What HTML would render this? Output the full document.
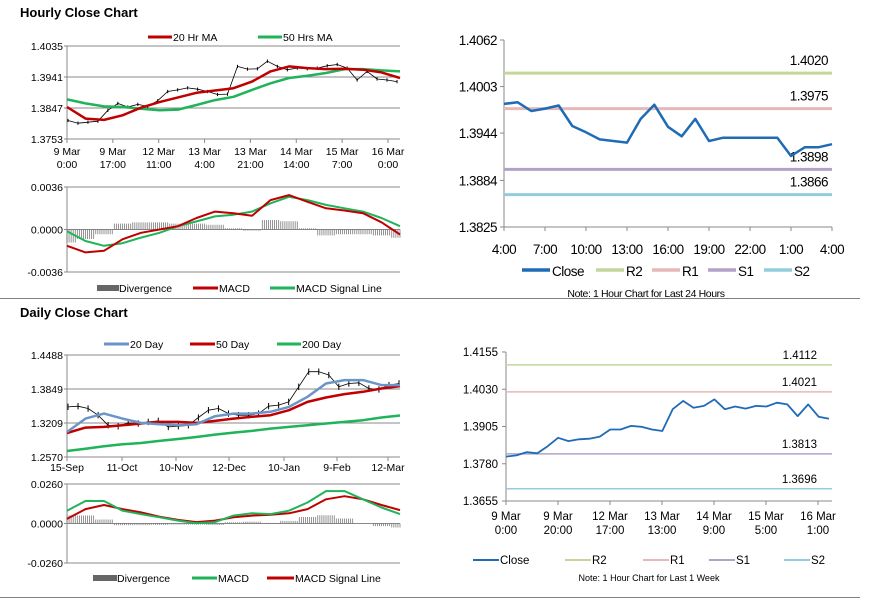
<!DOCTYPE html>
<html><head><meta charset="utf-8"><style>
html,body{margin:0;padding:0;background:#fff;width:873px;height:601px;overflow:hidden}
svg{display:block;font-family:"Liberation Sans",Arial,sans-serif}
</style></head><body>
<svg id="s" width="873" height="601" viewBox="0 0 873 601"></svg>
<script>
// ---- Hourly close (top-left) ----
const hourlyClose=[1.3809,1.3801,1.3804,1.3807,1.3840,1.3861,1.3850,1.3858,1.3852,1.3869,1.3897,1.3902,1.3908,1.3904,1.3897,1.3888,1.3889,1.3973,1.3965,1.3966,1.3989,1.3973,1.3963,1.3968,1.3966,1.3968,1.3975,1.3979,1.3968,1.3932,1.3958,1.3935,1.3932,1.3927];
const hourlyMA20=[1.3850,1.3815,1.3811,1.3825,1.3848,1.3865,1.3879,1.3893,1.3900,1.3907,1.3927,1.3958,1.3973,1.3968,1.3965,1.3966,1.3963,1.3955,1.3938];
const hourlyMA50=[1.3873,1.3861,1.3852,1.3850,1.3845,1.3840,1.3842,1.3856,1.3871,1.3881,1.3902,1.3922,1.3938,1.3945,1.3953,1.3965,1.3965,1.3961,1.3958];
const hourlyTicks=[1.3753,1.3847,1.3941,1.4035];
const hourlyXLabels=[["9 Mar","0:00"],["9 Mar","17:00"],["12 Mar","11:00"],["13 Mar","4:00"],["13 Mar","21:00"],["14 Mar","14:00"],["15 Mar","7:00"],["16 Mar","0:00"]];
const hMacd=[-0.00138,-0.00194,-0.00180,-0.00083,-0.00028,0,0.00028,0.00097,0.00152,0.00138,0.00116,0.00249,0.00291,0.00235,0.0018,0.00161,0.00138,0.00061,-0.00042];
const hSignal=[-0.00014,-0.00097,-0.00138,-0.00116,-0.00069,-0.00028,0.00028,0.00069,0.00111,0.00125,0.00152,0.00222,0.00277,0.00249,0.00208,0.0018,0.00152,0.00097,0.00028];
const hDiv=[-0.0011,-0.0008,-0.0004,0.0005,0.0006,0.0006,0.0005,0.0005,0.0004,0.0001,-0.0001,0.0008,0.0007,0.0001,-0.0005,-0.0004,-0.0004,-0.0005,-0.0007];
const hMacdTicks=[-0.0036,0,0.0036];
// ---- 24h close (top-right) ----
const close24=[1.3981,1.3983,1.3972,1.3975,1.3979,1.3953,1.3945,1.3936,1.3934,1.3932,1.3962,1.3980,1.3952,1.3940,1.3962,1.3934,1.3938,1.3938,1.3938,1.3938,1.3938,1.3915,1.3926,1.3926,1.3930];
const levels24=[1.4020,1.3975,1.3898,1.3866];
const ticks24=[1.3825,1.3884,1.3944,1.4003,1.4062];
const xLabels24=["4:00","7:00","10:00","13:00","16:00","19:00","22:00","1:00","4:00"];
// ---- Daily close (bottom-left) ----
const dailyClose=[1.3513,1.3526,1.3482,1.3356,1.3167,1.3148,1.3211,1.3199,1.3230,1.3249,1.3136,1.3148,1.3167,1.3312,1.3450,1.3482,1.3387,1.3356,1.3356,1.3387,1.3526,1.3545,1.3607,1.3890,1.4174,1.4174,1.4111,1.3890,1.3953,1.3966,1.3859,1.3840,1.3922,1.3953];
const daily20=[1.3041,1.3293,1.3387,1.3293,1.3211,1.3186,1.3167,1.3186,1.3337,1.3387,1.3387,1.3419,1.3513,1.3702,1.3953,1.4016,1.4016,1.3922,1.3922];
const daily50=[1.3022,1.3123,1.3136,1.3167,1.3199,1.3230,1.3230,1.3211,1.3249,1.3293,1.3325,1.3356,1.3450,1.3607,1.3689,1.3752,1.3796,1.3859,1.3903];
const daily200=[1.2683,1.2727,1.2771,1.2809,1.2834,1.2872,1.2909,1.2947,1.2991,1.3029,1.3060,1.3104,1.3136,1.3167,1.3199,1.3230,1.3262,1.3312,1.3350];
const dailyTicks=[1.2570,1.3209,1.3849,1.4488];
const dailyXLabels=["15-Sep","11-Oct","10-Nov","12-Dec","10-Jan","9-Feb","12-Mar"];
const dMacd=[0.0084,0.0148,0.0148,0.0084,0.0062,0.0041,0.0019,0.0002,0.0009,0.0052,0.0067,0.0062,0.0084,0.0138,0.0213,0.0213,0.0159,0.0105,0.0062];
const dSignal=[0.0030,0.0095,0.0122,0.0095,0.0073,0.0045,0.0024,0.0009,0.0019,0.0041,0.0052,0.0058,0.0067,0.0095,0.0159,0.0180,0.0159,0.0122,0.0088];
const dDiv=[0.0054,0.0053,0.0026,-0.0011,-0.0011,-0.0009,-0.0007,-0.0007,-0.001,0.0008,0.0012,0.0004,0.0017,0.0043,0.0054,0.0033,0.0000,-0.0017,-0.0026];
const dMacdTicks=[-0.0260,0,0.0260];
// ---- Week close (bottom-right) ----
const closeWeek=[1.3804,1.3808,1.3819,1.3815,1.3839,1.3867,1.3856,1.3862,1.3864,1.3871,1.3895,1.3895,1.3907,1.3904,1.3895,1.3890,1.3963,1.3991,1.3968,1.3974,1.3996,1.3963,1.3972,1.3965,1.3974,1.3972,1.3985,1.3979,1.3940,1.3979,1.3938,1.3931];
const levelsWeek=[1.4112,1.4021,1.3813,1.3696];
const ticksWeek=[1.3655,1.3780,1.3905,1.4030,1.4155];
const xLabelsWeek=[["9 Mar","0:00"],["9 Mar","20:00"],["12 Mar","17:00"],["13 Mar","13:00"],["14 Mar","9:00"],["15 Mar","5:00"],["16 Mar","1:00"]];
const levelNames=["R2","R1","S1","S2"];

const NS='http://www.w3.org/2000/svg';
const svg=document.getElementById('s');
const RED='#c00000',GREEN='#1fb35a',BLUE='#1f6bb5',LBLUE='#6b95c8';
const LVLC=['#c3d69b','#e6b9b8','#b3a2c7','#93cddd'];
function mk(tag,attrs){const e=document.createElementNS(NS,tag);for(const k in attrs)e.setAttribute(k,attrs[k]);svg.appendChild(e);return e;}
function txt(x,y,s,size,anchor,extra){const e=mk('text',Object.assign({x:x,y:y,'font-size':size,'text-anchor':anchor||'start',fill:'#000'},extra||{}));e.textContent=s;return e;}
function lin(d0,d1,r0,r1){return v=>r0+(v-d0)/(d1-d0)*(r1-r0);}
function idx(n,x0,x1){return i=>x0+i/(n-1)*(x1-x0);}
function poly(arr,xs,ys,color,w,name){const p=arr.map((v,i)=>xs(i).toFixed(1)+','+ys(v).toFixed(1)).join(' ');
 const e=mk('polyline',{points:p,fill:'none',stroke:color,'stroke-width':w,'stroke-linejoin':'round'});
 
 return e;}
function lineSw(x1,y,x2,color,w){return mk('line',{x1:x1,y1:y,x2:x2,y2:y,stroke:color,'stroke-width':w});}

function leftFrame(x0,x1,y0,y1,ticks,ys,fmt,name){
 ticks.forEach(t=>{const y=ys(t);
  const g=mk('line',{x1:x0,y1:y,x2:x1,y2:y,stroke:'#8a8a8a','stroke-width':1});
  
  
  mk('line',{x1:x0-3,y1:y,x2:x0,y2:y,stroke:'#8a8a8a'});
  const l=txt(x0-4,y+4,fmt(t),10.5,'end');
  
  });
 mk('line',{x1:x0,y1:y0,x2:x0,y2:y1,stroke:'#8a8a8a'});
}

// titles & separators
let t=txt(20,17,'Hourly Close Chart',13,'start',{'font-weight':'bold'});


t=txt(20,317,'Daily Close Chart',13,'start',{'font-weight':'bold'});


mk('line',{x1:0,y1:298.5,x2:860,y2:298.5,stroke:'#808080','stroke-width':1});
mk('line',{x1:0,y1:597.5,x2:860,y2:597.5,stroke:'#808080','stroke-width':1});

// ===== Chart A =====
(function(){
 const x0=67,x1=400,ys=lin(1.3753,1.4035,139,46);
 leftFrame(x0,x1,46,139,hourlyTicks,ys,v=>v.toFixed(4),'hourly');
 hourlyXLabels.forEach((l,i)=>{const x=x0+i*(388-x0)/7;
  mk('line',{x1:x,y1:139,x2:x,y2:143,stroke:'#8a8a8a'});
  const a=txt(x,155,l[0],10.5,'middle');
  txt(x,168,l[1],10.5,'middle');});
 const xp=idx(hourlyClose.length,x0+1,x1-3);
 hourlyClose.forEach((v,i)=>{const b=mk('line',{x1:xp(i),y1:ys(v+0.0005),x2:xp(i),y2:ys(v-0.0005),stroke:'#000','stroke-width':1});
  });
 poly(hourlyClose,xp,ys,'#000',0.8,'hourly-close-line');
 const xm=idx(hourlyMA20.length,x0,x1);
 poly(hourlyMA50,xm,ys,GREEN,2.5,'hourly-ma50-line');
 poly(hourlyMA20,xm,ys,RED,2.5,'hourly-ma20-line');
 lineSw(148,37,172,RED,3);let l=txt(173,41,'20 Hr MA',10.5);
 lineSw(258,37,282,GREEN,3);l=txt(283,41,'50 Hrs MA',10.5);
 // MACD
 const ym=lin(-0.0036,0.0036,272,187);
 leftFrame(x0,x1,187,272,hMacdTicks,ym,v=>v.toFixed(4),'hourly-macd');
 const xd=idx(hDiv.length,x0,x1),w=(x1-x0)/(hDiv.length-1);
 hDiv.forEach((v,i)=>{for(let k=-4;k<=4;k++){const x=xd(i)+k*w/9;if(x<x0||x>x1)continue;
  const b=mk('line',{x1:x,y1:ym(0),x2:x,y2:ym(v),stroke:'#666','stroke-width':0.7});
  }});
 poly(hSignal,xd,ym,GREEN,2,'hourly-macd-signal-line');
 poly(hMacd,xd,ym,RED,2,'hourly-macd-line');
 mk('rect',{x:97,y:285,width:22,height:6,fill:'#666'});l=txt(119,292,'Divergence',10.5);
 lineSw(193,288,218,RED,3);l=txt(219,292,'MACD',10.5);
 lineSw(270,288,295,GREEN,3);l=txt(296,292,'MACD Signal Line',10.5);
})();

// ===== Chart B =====
(function(){
 const x0=504,x1=832,ys=lin(1.3825,1.4062,227,40);
 mk('line',{x1:x0,y1:40,x2:x0,y2:227,stroke:'#8a8a8a'});
 mk('line',{x1:x0,y1:227,x2:x1,y2:227,stroke:'#8a8a8a'});
 ticks24.forEach(v=>{const y=ys(v);mk('line',{x1:x0-4,y1:y,x2:x0,y2:y,stroke:'#8a8a8a'});
  const l=txt(x0-7,y+5,v.toFixed(4),13.5,'end',{'letter-spacing':'-0.5'});});
 xLabels24.forEach((s,i)=>{const x=x0+i*(x1-x0)/8;mk('line',{x1:x,y1:227,x2:x,y2:231,stroke:'#8a8a8a'});
  const l=txt(x,254,s,13.5,'middle',{'letter-spacing':'-0.5'});});
 levels24.forEach((v,i)=>{const y=ys(v);
  const e=mk('line',{x1:x0,y1:y,x2:x1,y2:y,stroke:LVLC[i],'stroke-width':3});
  
  txt(828,y-8,v.toFixed(4),13.5,'end',{'letter-spacing':'-0.5'});});
 poly(close24,idx(close24.length,x0,x1),ys,BLUE,2.5,'24h-close-line');
 const items=[['Close',BLUE,522],['R2',LVLC[0],596],['R1',LVLC[1],652],['S1',LVLC[2],708],['S2',LVLC[3],764]];
 items.forEach(it=>{lineSw(it[2],270,it[2]+28,it[1],3.5);const l=txt(it[2]+30,276,it[0],13.5,'start',{'letter-spacing':'-0.5'});
  });
 const n=txt(646,297,'Note: 1 Hour Chart for Last 24 Hours',10.5,'middle',{'letter-spacing':'-0.4'});
})();

// ===== Chart C =====
(function(){
 const x0=67,x1=400,ys=lin(1.2570,1.4488,457,355);
 leftFrame(x0,x1,355,457,dailyTicks,ys,v=>v.toFixed(4),'daily');
 const pos=[67,122,176,229,284,337,388];
 dailyXLabels.forEach((s,i)=>{mk('line',{x1:pos[i],y1:457,x2:pos[i],y2:461,stroke:'#8a8a8a'});
  const l=txt(pos[i],471,s,10.5,'middle');});
 const xp=idx(dailyClose.length,x0+1,x1-1);
 dailyClose.forEach((v,i)=>{const b=mk('line',{x1:xp(i),y1:ys(v+0.006),x2:xp(i),y2:ys(v-0.006),stroke:'#000','stroke-width':1});
  });
 poly(dailyClose,xp,ys,'#000',0.8,'daily-close-line');
 const xm=idx(daily20.length,x0,x1);
 poly(daily200,xm,ys,GREEN,2.5,'daily-200-line');
 poly(daily50,xm,ys,RED,2.5,'daily-50-line');
 poly(daily20,xm,ys,LBLUE,2.5,'daily-20-line');
 lineSw(104,344,129,LBLUE,3);let l=txt(130,348,'20 Day',10.5);
 lineSw(190,344,215,RED,3);l=txt(216,348,'50 Day',10.5);
 lineSw(277,344,301,GREEN,3);l=txt(302,348,'200 Day',10.5);
 const ym=lin(-0.026,0.026,563,484);
 leftFrame(x0,x1,484,563,dMacdTicks,ym,v=>v.toFixed(4),'daily-macd');
 const xd=idx(dDiv.length,x0,x1),w=(x1-x0)/(dDiv.length-1);
 dDiv.forEach((v,i)=>{for(let k=-4;k<=4;k++){const x=xd(i)+k*w/9;if(x<x0||x>x1)continue;
  const b=mk('line',{x1:x,y1:ym(0),x2:x,y2:ym(v),stroke:'#666','stroke-width':0.7});
  }});
 poly(dSignal,xd,ym,RED,2,'daily-macd-signal-line');
 poly(dMacd,xd,ym,GREEN,2,'daily-macd-line');
 mk('rect',{x:93,y:575,width:24,height:6,fill:'#666'});l=txt(117,582,'Divergence',10.5);
 lineSw(192,578,217,GREEN,3);l=txt(218,582,'MACD',10.5);
 lineSw(267,578,294,RED,3);l=txt(295,582,'MACD Signal Line',10.5);
})();

// ===== Chart D =====
(function(){
 const x0=506,x1=832,ys=lin(1.3655,1.4155,501,352);
 mk('line',{x1:x0,y1:352,x2:x0,y2:501,stroke:'#8a8a8a'});
 mk('line',{x1:x0,y1:501,x2:x1,y2:501,stroke:'#8a8a8a'});
 ticksWeek.forEach(v=>{const y=ys(v);mk('line',{x1:x0-4,y1:y,x2:x0,y2:y,stroke:'#8a8a8a'});
  const l=txt(x0-8,y+4,v.toFixed(4),11.5,'end');});
 xLabelsWeek.forEach((s,i)=>{const x=x0+i*52;mk('line',{x1:x,y1:501,x2:x,y2:505,stroke:'#8a8a8a'});
  const l=txt(x,520,s[0],11.5,'middle');
  txt(x,534,s[1],11.5,'middle');});
 levelsWeek.forEach((v,i)=>{const y=ys(v);
  const e=mk('line',{x1:x0,y1:y,x2:x1,y2:y,stroke:LVLC[i],'stroke-width':1.5});
  
  txt(817,y-6,v.toFixed(4),11.5,'end');});
 poly(closeWeek,idx(closeWeek.length,x0,x1-3),ys,BLUE,1.8,'week-close-line');
 const items=[['Close',BLUE,473],['R2',LVLC[0],565],['R1',LVLC[1],643],['S1',LVLC[2],709],['S2',LVLC[3],784]];
 items.forEach(it=>{lineSw(it[2],560,it[2]+26,it[1],2);const l=txt(it[2]+27,564,it[0],11.5);
  });
 const n=txt(649,581,'Note: 1 Hour Chart for Last 1 Week',9,'middle');
})();
</script>
</body></html>
